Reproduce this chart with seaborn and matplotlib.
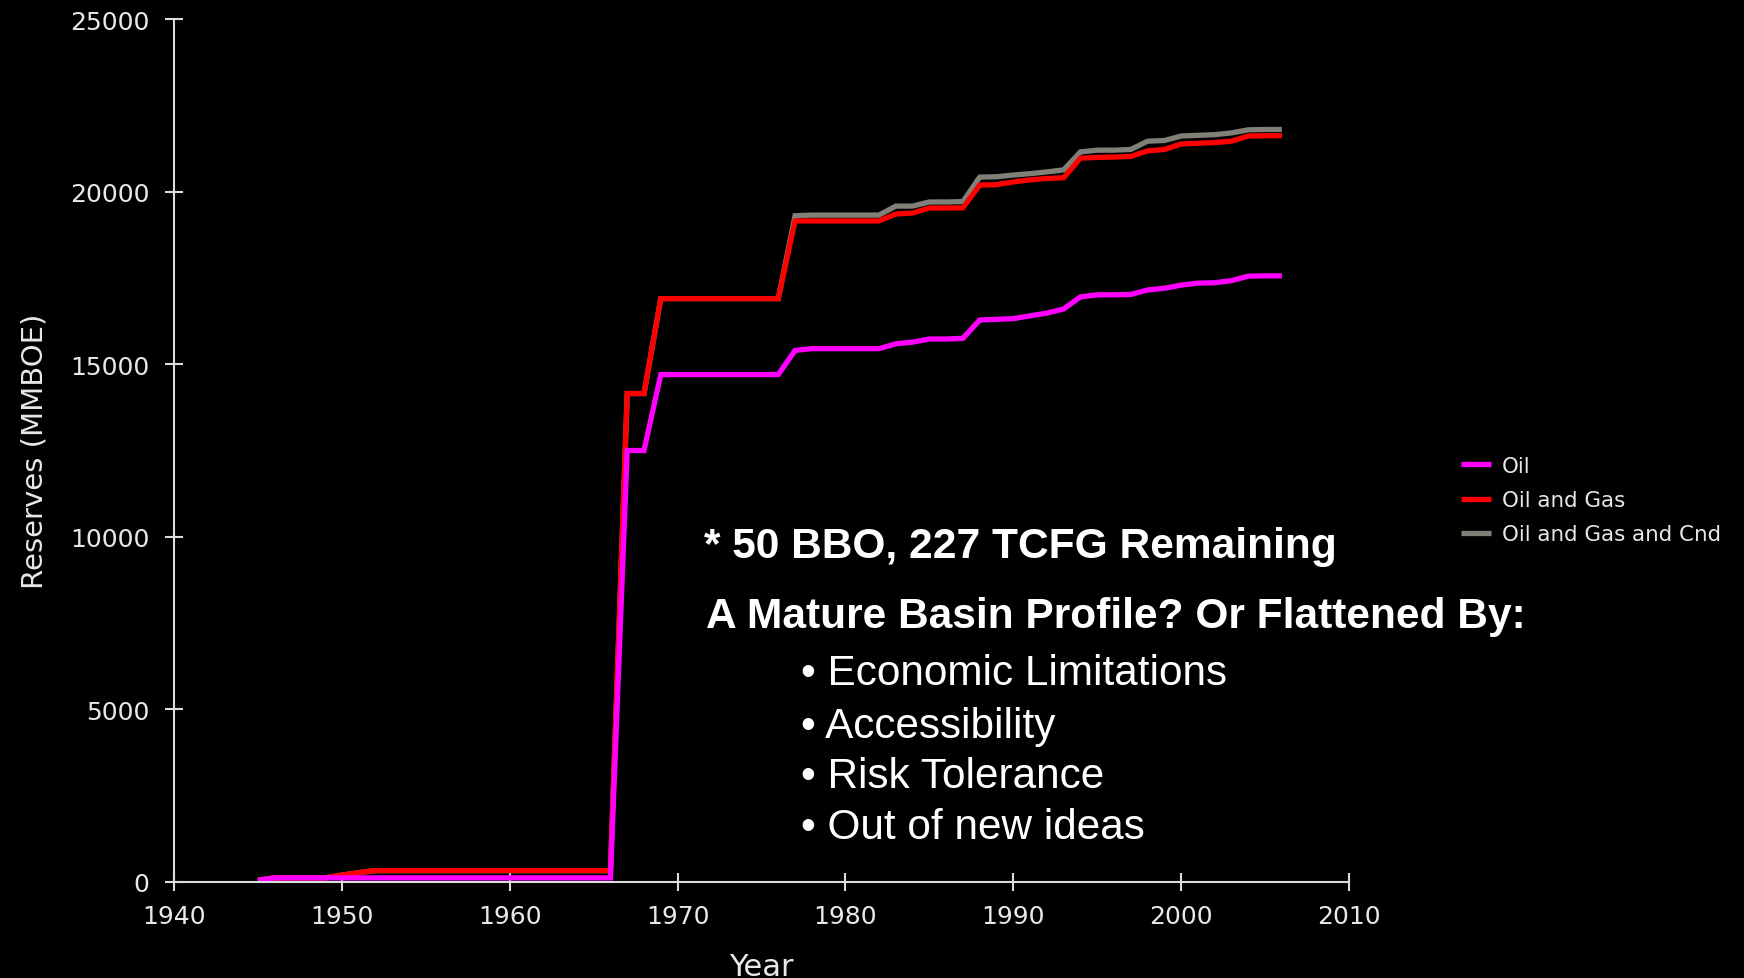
import matplotlib
matplotlib.use("Agg")
import matplotlib.pyplot as plt
import seaborn as sns
import pandas as pd

# ---------------- data ----------------
years = list(range(1945, 2007))

oil = [50, 120, 120, 120, 120, 120, 120, 120, 120, 120, 120,
       120, 120, 120, 120, 120, 120, 120, 120, 120, 120, 120,
       12500, 12500, 14700, 14700, 14700, 14700, 14700, 14700, 14700, 14700,
       15400, 15450, 15450, 15450, 15450, 15450,
       15590, 15640, 15730, 15730, 15750, 16280, 16300, 16320, 16400, 16480,
       16600, 16950, 17010, 17010, 17020, 17150, 17200, 17290, 17350, 17360,
       17420, 17550, 17560, 17560]

oil_gas = [50, 120, 120, 120, 120, 200, 270, 330, 330, 330, 330,
           330, 330, 330, 330, 330, 330, 330, 330, 330, 330, 330,
           14150, 14150, 16900, 16900, 16900, 16900, 16900, 16900, 16900, 16900,
           19150, 19150, 19150, 19150, 19150, 19150,
           19350, 19380, 19525, 19525, 19530, 20190, 20200, 20280, 20340, 20380,
           20400, 20970, 20990, 21000, 21020, 21180, 21220, 21380, 21400, 21420,
           21460, 21610, 21620, 21620]

oil_gas_cnd = [50, 120, 120, 120, 120, 200, 270, 330, 330, 330, 330,
               330, 330, 330, 330, 330, 330, 330, 330, 330, 330, 330,
               14150, 14150, 16900, 16900, 16900, 16900, 16900, 16900, 16900, 16900,
               19300, 19320, 19320, 19320, 19320, 19320,
               19580, 19580, 19700, 19700, 19710, 20420, 20430, 20480, 20520, 20570,
               20630, 21150, 21200, 21200, 21220, 21460, 21480, 21610, 21630, 21650,
               21700, 21790, 21800, 21800]

series_names = ["Oil", "Oil and Gas", "Oil and Gas and Cnd"]
series_colors = ["#ff00ff", "#ff0000", "#808078"]

x_ticks = [1940, 1950, 1960, 1970, 1980, 1990, 2000, 2010]
y_ticks = [0, 5000, 10000, 15000, 20000, 25000]

note_lines = ["* 50 BBO, 227 TCFG Remaining",
              "A Mature Basin Profile? Or Flattened By:"]
bullets = ["\u2022 Economic Limitations",
           "\u2022 Accessibility",
           "\u2022 Risk Tolerance",
           "\u2022 Out of new ideas"]

# ---------------- frame ----------------
df = pd.DataFrame({
    "Year": years * 3,
    "Reserves": oil + oil_gas + oil_gas_cnd,
    "Series": [series_names[0]] * len(years) + [series_names[1]] * len(years)
              + [series_names[2]] * len(years),
})

sns.set_theme(style="ticks", rc={
    "figure.facecolor": "black",
    "axes.facecolor": "black",
    "axes.edgecolor": "#dcdcdc",
    "text.color": "#e8e8e8",
    "axes.labelcolor": "#e8e8e8",
    "xtick.color": "#dcdcdc",
    "ytick.color": "#dcdcdc",
})
plt.rcParams["font.family"] = ["DejaVu Sans"]

W, H = 1744, 979
fig = plt.figure(figsize=(W / 100, H / 100), dpi=100)
ax = fig.add_axes([174 / W, 1 - 883 / H, (1349 - 174) / W, (883 - 20) / H])

palette = dict(zip(series_names, series_colors))
draw_order = [series_names[2], series_names[1], series_names[0]]
sns.lineplot(data=df, x="Year", y="Reserves", hue="Series",
             hue_order=draw_order, palette=palette, estimator=None,
             sort=False, linewidth=3.8, legend=False, ax=ax)
for ln in ax.lines:
    ln.set_solid_capstyle("butt")
    ln.set_solid_joinstyle("miter")

ax.set_xlim(1940, 2010)
ax.set_ylim(0, 25000)
ax.set_xticks(x_ticks)
ax.set_yticks(y_ticks)
ax.tick_params(axis="both", direction="inout", length=13, width=1.5,
               labelsize=18, labelcolor="#e8e8e8")
ax.tick_params(axis="y", pad=11)
ax.tick_params(axis="x", pad=9)
for s in ["top", "right"]:
    ax.spines[s].set_visible(False)
for s in ["left", "bottom"]:
    ax.spines[s].set_linewidth(1.5)

ax.set_xlabel("Year", fontsize=22)
ax.set_ylabel("Reserves (MMBOE)", fontsize=21)
ax.xaxis.set_label_coords(0.5, -0.081)
ax.yaxis.set_label_coords(-0.107, 0.5)

# legend (Oil first, Cnd last)
handles = [ax.lines[2], ax.lines[1], ax.lines[0]]
leg = fig.legend(handles, series_names, loc="center left",
                 bbox_to_anchor=(1461 / W, 1 - 501 / H), frameon=False,
                 fontsize=15.4, handlelength=1.4, handletextpad=0.52,
                 labelspacing=0.66, borderpad=0, borderaxespad=0)
for t in leg.get_texts():
    t.set_color("#e8e8e8")

# annotation text
fig.text(704 / W, 1 - 558 / H, note_lines[0], fontsize=30.6, fontweight="bold",
         family="Liberation Sans", color="white", va="baseline", ha="left")
fig.text(706 / W, 1 - 628 / H, note_lines[1], fontsize=30.6, fontweight="bold",
         family="Liberation Sans", color="white", va="baseline", ha="left")
for b, yb in zip(bullets, [685, 738, 788, 839]):
    fig.text(801 / W, 1 - yb / H, b, fontsize=30.4, family="Liberation Sans",
             color="white", va="baseline", ha="left")

fig.savefig("out.png", dpi=100, facecolor="black")
